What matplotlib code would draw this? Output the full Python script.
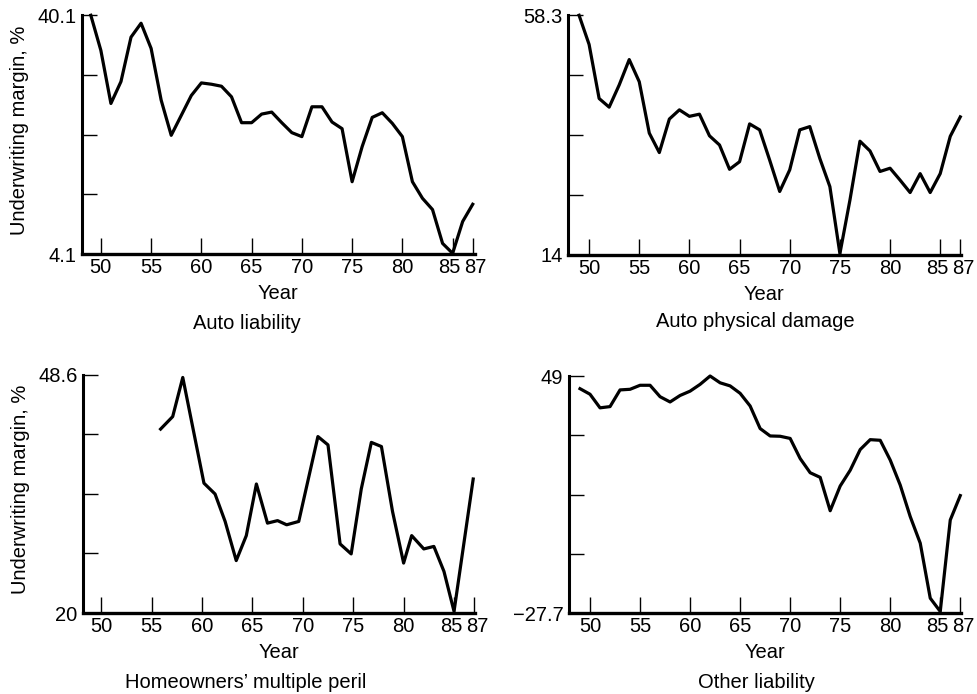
import matplotlib
matplotlib.use('Agg')
import matplotlib.pyplot as plt
import matplotlib.transforms as mtransforms
import numpy as np

plt.rcParams['font.family'] = ['Liberation Sans', 'DejaVu Sans']

# values
years = list(range(49, 88))
auto_liability = [40.1, 34.8, 26.8, 30.1, 36.8, 38.9, 35.1, 27.3, 22.0, 25.0,
                  28.0, 29.9, 29.7, 29.4, 27.8, 23.9, 23.9, 25.2, 25.5, 23.9,
                  22.4, 21.8, 26.3, 26.3, 24.0, 23.0, 15.0, 20.3, 24.7, 25.4,
                  23.8, 21.8, 15.0, 12.5, 10.8, 5.7, 4.2, 9.0, 11.6]
auto_physical = [58.3, 52.9, 42.9, 41.3, 45.4, 50.1, 46.0, 36.5, 32.9, 39.1,
                 40.8, 39.6, 40.0, 36.0, 34.3, 29.8, 31.2, 38.2, 37.1, 31.5,
                 25.7, 29.7, 37.1, 37.7, 31.8, 26.6, 14.2, 24.1, 35.0, 33.2,
                 29.4, 30.0, 27.8, 25.5, 29.0, 25.5, 29.0, 35.9, 39.5]
other_liability = [44.9, 43.1, 38.7, 39.1, 44.5, 44.7, 46.0, 46.0, 42.3, 40.6,
                   42.7, 44.1, 46.3, 49.0, 46.8, 45.8, 43.4, 39.3, 32.0, 29.6,
                   29.5, 28.8, 22.3, 17.7, 16.2, 5.4, 13.4, 18.5, 25.2, 28.4,
                   28.2, 21.8, 13.7, 3.5, -5.1, -22.9, -27.2, 2.4, 10.3]
# homeowners series starts in the mid 50s; x read as drawn
home_years = [55.9, 57.1, 58.1, 60.2, 61.3, 62.3, 63.4, 64.4, 65.4, 66.5,
              67.5, 68.4, 69.6, 71.5, 72.5, 73.7, 74.8, 75.8, 76.8, 77.8,
              78.9, 80.0, 80.8, 82.0, 83.0, 84.0, 85.0, 86.9]
homeowners = [42.1, 43.6, 48.3, 35.6, 34.3, 31.0, 26.3, 29.3, 35.5, 30.8,
              31.1, 30.6, 31.0, 41.2, 40.2, 28.3, 27.1, 34.9, 40.5, 40.0,
              32.2, 26.0, 29.3, 27.7, 28.0, 25.0, 20.2, 36.1]

xticks = [50, 55, 60, 65, 70, 75, 80, 85, 87]
titles = ['Auto liability', 'Auto physical damage',
          "Homeowners\u2019 multiple peril", 'Other liability']
y_ranges = [(4.1, 40.1), (14, 58.3), (20, 48.6), (-27.7, 49)]
y_labels = [('4.1', '40.1'), ('14', '58.3'), ('20', '48.6'), ('\u221227.7', '49')]

fs = 14.5
fig = plt.figure(figsize=(9.77, 6.94), dpi=100)

# [left, bottom, width, height], xlim
boxes = [([0.0839, 0.634, 0.402, 0.344], (48.12, 87.2)),
         ([0.5814, 0.633, 0.402, 0.345], (47.9, 87.05)),
         ([0.0849, 0.1167, 0.4015, 0.343], (48.2, 87.1)),
         ([0.5824, 0.1167, 0.4015, 0.3415], (47.9, 87.1))]
series = [(years, auto_liability), (years, auto_physical),
          (home_years, homeowners), (years, other_liability)]
title_pos = [(247, 323), (755, 322), (246, 683), (756, 682)]

for i, ((box, xlim), (xs, ys)) in enumerate(zip(boxes, series)):
    ax = fig.add_axes(box)
    ax.plot(xs, ys, color='black', lw=2.3, clip_on=False)
    lo, hi = y_ranges[i]
    ax.set_ylim(lo, hi)
    ax.set_xlim(*xlim)
    ax.set_yticks(np.linspace(lo, hi, 5))
    ax.set_yticklabels([y_labels[i][0], '', '', '', y_labels[i][1]])
    ax.set_xticks(xticks)
    ax.set_xticklabels([str(t) for t in xticks])
    ax.tick_params(axis='y', direction='in', length=11, width=1, pad=4,
                   labelsize=fs)
    ax.tick_params(axis='x', direction='in', length=11.5, width=1, pad=3,
                   labelsize=fs)
    # nudge the crowded 85 / 87 labels apart
    labs = ax.get_xticklabels()
    labs[-2].set_transform(labs[-2].get_transform() +
                           mtransforms.ScaledTranslation(-3 / 100, 0, fig.dpi_scale_trans))
    labs[-1].set_transform(labs[-1].get_transform() +
                           mtransforms.ScaledTranslation(3 / 100, 0, fig.dpi_scale_trans))
    for s in ['top', 'right']:
        ax.spines[s].set_visible(False)
    ax.spines['left'].set_linewidth(2.2)
    ax.spines['bottom'].set_linewidth(2.4)
    ax.set_xlabel('Year', fontsize=fs, labelpad=5)
    if i % 2 == 0:
        ax.set_ylabel('Underwriting margin, %', fontsize=fs)
        ax.yaxis.set_label_coords(-0.135, 0.52)
    tx, ty = title_pos[i]
    fig.text(tx / 977, 1 - ty / 694, titles[i], fontsize=fs,
             ha='center', va='center')

fig.savefig('out.png', dpi=100)
